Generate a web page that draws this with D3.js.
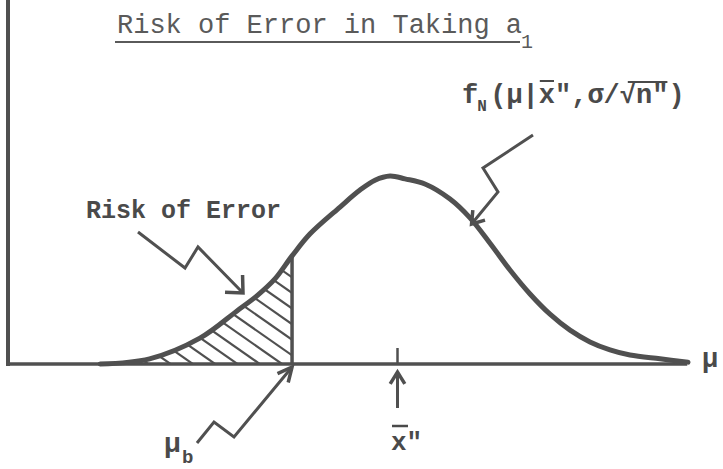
<!DOCTYPE html>
<html>
<head>
<meta charset="utf-8">
<script src="https://cdn.jsdelivr.net/npm/d3@7"></script>
<style>
  body { margin: 0; background: #fff; }
  text { font-family: "Liberation Mono", "DejaVu Sans Mono", monospace; }
</style>
</head>
<body>
<div id="canvas"></div>
<script>
var width = 723;
var height = 469;

// curve: mu in sigma units from the mode, density
var muVals   = [-3.03, -2.51, -1.98, -1.59, -1.38, -1.19, -1.01, -0.82, -0.505, -0.295, -0.137, 0.021, 0.179, 0.389, 0.653, 0.863, 1.074, 1.284, 1.495, 1.705, 1.916, 2.126, 2.337, 2.547, 2.863, 3.158];
var densVals = [0.000, 0.011, 0.055, 0.113, 0.145, 0.181, 0.230, 0.277, 0.334, 0.370, 0.391, 0.400, 0.394, 0.383, 0.351, 0.311, 0.257, 0.200, 0.149, 0.106, 0.072, 0.047, 0.030, 0.019, 0.011, 0.004];

var muB = -1.01;     // mu_b, edge of the risk area
var xBar = 0.1;      // x-bar'' tick
var axisEnd = 3.15;

var titleText = "Risk of Error in Taking a";
var titleSub = "1";
var riskLabel = "Risk of Error";

var ink = "#505050";

var svg = d3.select("#canvas").append("svg")
    .attr("width", width)
    .attr("height", height)
    .style("background-color", "white");

var xScale = d3.scaleLinear().domain([-4, 3.2]).range([8, 692]);
var yScale = d3.scaleLinear().domain([0, 0.4]).range([364, 176]);

var pts = muVals.map((m, i) => ({ mu: m, d: densVals[i] }));

var line = d3.line()
    .x(d => xScale(d.mu))
    .y(d => yScale(d.d))
    .curve(d3.curveCatmullRom.alpha(0.5));

var area = d3.area()
    .x(d => xScale(d.mu))
    .y0(yScale(0))
    .y1(d => yScale(d.d))
    .curve(d3.curveCatmullRom.alpha(0.5));

// hatched tail
svg.append("clipPath").attr("id", "tail")
  .append("path")
    .datum(pts.filter(p => p.mu <= muB))
    .attr("d", area);

var y0 = yScale(0);
svg.append("g").attr("clip-path", "url(#tail)")
  .selectAll("line")
  .data(d3.range(126, 460, 22.3))
  .enter().append("line")
    .attr("x1", t => t - 220)
    .attr("y1", y0 - 220 * 0.7)
    .attr("x2", t => t + 10)
    .attr("y2", y0 + 7)
    .style("stroke", ink)
    .style("stroke-width", 2.2);

// axes
svg.append("line")
    .attr("x1", xScale(-4)).attr("y1", 0)
    .attr("x2", xScale(-4)).attr("y2", y0 + 2)
    .style("stroke", ink).style("stroke-width", 4);

svg.append("line")
    .attr("x1", xScale(-4)).attr("y1", y0)
    .attr("x2", xScale(axisEnd)).attr("y2", y0)
    .style("stroke", ink).style("stroke-width", 3.5);

// mu_b vertical and x-bar tick
var dB = densVals[muVals.indexOf(muB)];
svg.append("line")
    .attr("x1", xScale(muB)).attr("y1", y0)
    .attr("x2", xScale(muB)).attr("y2", yScale(dB))
    .style("stroke", ink).style("stroke-width", 3.5);

svg.append("line")
    .attr("x1", xScale(xBar)).attr("y1", y0)
    .attr("x2", xScale(xBar)).attr("y2", y0 - 16)
    .style("stroke", ink).style("stroke-width", 2.5);

// the density curve
svg.append("path")
    .datum(pts)
    .attr("d", line)
    .style("fill", "none")
    .style("stroke", ink)
    .style("stroke-width", 5)
    .style("stroke-linecap", "round");

// zig-zag arrows
function arrow(p, headLen, headAng) {
    svg.append("path")
        .attr("d", d3.line()(p))
        .style("fill", "none").style("stroke", ink)
        .style("stroke-width", 3).style("stroke-linejoin", "miter");
    var a = p[p.length - 1], b = p[p.length - 2];
    var ang = Math.atan2(b[1] - a[1], b[0] - a[0]);
    var h = [ang - headAng, ang + headAng].map(t => [a[0] + headLen * Math.cos(t), a[1] + headLen * Math.sin(t)]);
    svg.append("path")
        .attr("d", d3.line()([h[0], a, h[1]]))
        .style("fill", "none").style("stroke", ink)
        .style("stroke-width", 3.5);
}

var fx = xScale(0.89) - 1, fy = yScale(0.30) + 1;
arrow([[533, 135], [483, 168], [498, 192], [fx, fy]], 14, 0.6);
arrow([[138, 232], [185, 268], [198, 247], [243, 293]], 18, 0.75);
arrow([[197, 443], [214, 422], [234, 437], [xScale(muB), y0 + 3]], 16, 0.45);
arrow([[xScale(xBar), 408], [xScale(xBar), y0 + 8]], 14, 0.55);

// title
svg.append("text")
    .attr("x", 117).attr("y", 33)
    .style("font-size", "27px").style("fill", "#5a5a5a")
    .text(titleText);
svg.append("text")
    .attr("x", 521).attr("y", 48)
    .style("font-size", "20px").style("fill", "#5a5a5a")
    .text(titleSub);
svg.append("line")
    .attr("x1", 115).attr("y1", 42).attr("x2", 520).attr("y2", 42)
    .style("stroke", "#5a5a5a").style("stroke-width", 2);

// Risk of Error label
svg.append("text")
    .attr("x", 86).attr("y", 218)
    .style("font-size", "25px").style("font-weight", "bold").style("fill", "#4a4a4a")
    .text(riskLabel);

// f_N(mu | x-bar'', sigma / sqrt(n''))
var fs = 27, cw = fs * 0.6, fx0 = 462, fby = 103;
var fN = svg.append("g").style("fill", "#4a4a4a").style("font-weight", "bold");
fN.append("text").attr("x", fx0).attr("y", fby).style("font-size", fs + "px").text("f");
fN.append("text").attr("x", fx0 + cw - 1).attr("y", fby + 8).style("font-size", "16px").text("N");
var rest = "(\u03bc|x\",\u03c3/\u221an\")";
var rx = fx0 + cw + 12;
fN.append("text").attr("x", rx).attr("y", fby).style("font-size", fs + "px").text(rest);
// overline on x'' and sqrt bar on n''
svg.append("line")
    .attr("x1", rx + 3 * cw + 1).attr("y1", fby - 22).attr("x2", rx + 4 * cw - 1).attr("y2", fby - 22)
    .style("stroke", "#4a4a4a").style("stroke-width", 2);
svg.append("line")
    .attr("x1", rx + 8 * cw + 8).attr("y1", fby - 21).attr("x2", rx + 11 * cw - 1).attr("y2", fby - 21)
    .style("stroke", "#4a4a4a").style("stroke-width", 2);

// mu_b label
svg.append("text").attr("x", 164).attr("y", 452)
    .style("font-size", "28px").style("fill", "#4a4a4a").style("font-weight", "bold").text("\u03bc");
svg.append("text").attr("x", 182).attr("y", 463)
    .style("font-size", "19px").style("fill", "#4a4a4a").style("font-weight", "bold").text("b");

// x-bar'' label
svg.append("text").attr("x", 391).attr("y", 450)
    .style("font-size", "26px").style("fill", "#4a4a4a").style("font-weight", "bold").text("x\"");
svg.append("line")
    .attr("x1", 392).attr("y1", 426).attr("x2", 408).attr("y2", 426)
    .style("stroke", "#4a4a4a").style("stroke-width", 2.5);

// mu at end of axis
svg.append("text").attr("x", 702).attr("y", 367)
    .style("font-size", "27px").style("fill", "#4a4a4a").style("font-weight", "bold").text("\u03bc");
</script>
</body>
</html>
